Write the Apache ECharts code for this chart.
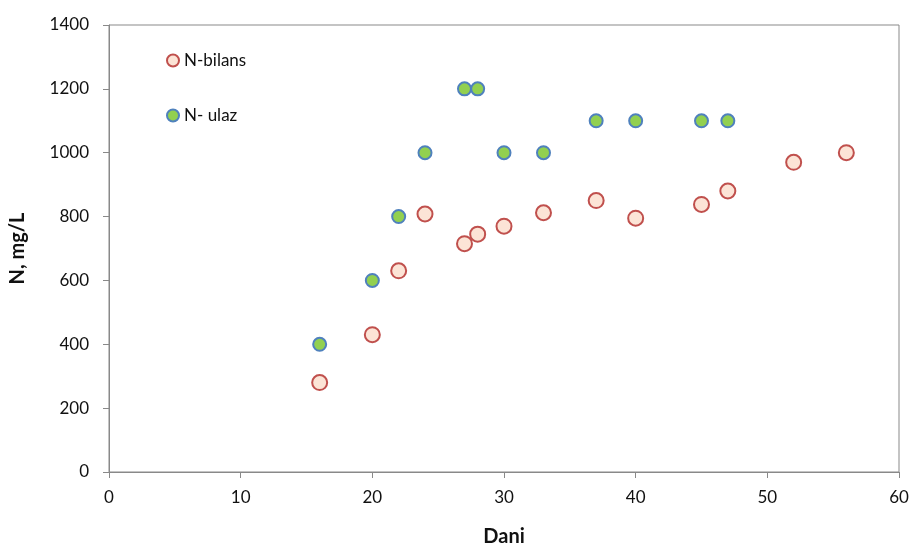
<!DOCTYPE html>
<html><head><meta charset="utf-8">
<script src="https://cdn.jsdelivr.net/npm/echarts@6/dist/echarts.min.js"></script>
<style>html,body{margin:0;padding:0;background:#fff}#c{width:913px;height:547px}</style>
</head><body><div id="c"></div>
<script>
const bilansDays = [16, 20, 22, 24, 27, 28, 30, 33, 37, 40, 45, 47, 52, 56];
const bilansN    = [280, 430, 630, 808, 715, 745, 770, 812, 850, 795, 838, 880, 970, 1000];
const ulazDays   = [16, 20, 22, 24, 27, 28, 30, 33, 37, 40, 45, 47];
const ulazN      = [400, 600, 800, 1000, 1200, 1200, 1000, 1000, 1100, 1100, 1100, 1100];
const seriesNames = ['N-bilans', 'N- ulaz'];

const FONT = 'Lato, "Open Sans", sans-serif';
const chart = echarts.init(document.getElementById('c'), null, {renderer: 'canvas'});
chart.setOption({
  animation: false,
  backgroundColor: '#fff',
  grid: {left: 109, right: 14, top: 25, bottom: 75, containLabel: false, outerBoundsMode: 'none',
         show: true, borderColor: '#898989', borderWidth: 1, backgroundColor: 'transparent'},
  legend: {
    orient: 'vertical', left: 161, top: 47, itemGap: 38, itemWidth: 12, itemHeight: 12,
    textStyle: {fontFamily: FONT, fontSize: 17, color: '#111'},
    data: seriesNames.map(n => ({name: n, icon: 'circle'}))
  },
  xAxis: {
    type: 'value', min: 0, max: 60, interval: 10,
    name: 'Dani', nameLocation: 'middle', nameGap: 55,
    nameTextStyle: {fontFamily: FONT, fontSize: 20, fontWeight: 'bold', color: '#111'},
    axisLine: {show: true, lineStyle: {color: '#898989'}},
    axisTick: {show: true, length: 6, lineStyle: {color: '#898989'}},
    axisLabel: {fontFamily: FONT, fontSize: 17, color: '#111', margin: 17},
    splitLine: {show: false}
  },
  yAxis: {
    type: 'value', min: 0, max: 1400, interval: 200,
    name: 'N, mg/L', nameLocation: 'middle', nameGap: 81,
    nameTextStyle: {fontFamily: FONT, fontSize: 20, fontWeight: 'bold', color: '#111'},
    axisLine: {show: true, lineStyle: {color: '#898989'}},
    axisTick: {show: true, length: 6, lineStyle: {color: '#898989'}},
    axisLabel: {fontFamily: FONT, fontSize: 17, color: '#111', margin: 20, formatter: v => String(v)},
    splitLine: {show: false}
  },
  series: [
    {
      name: seriesNames[0], type: 'scatter', symbol: 'circle', symbolSize: 15,
      itemStyle: {color: '#FCE4D6', borderColor: '#C0504D', borderWidth: 2, opacity: 1},
      data: bilansDays.map((d, i) => [d, bilansN[i]]), z: 2
    },
    {
      name: seriesNames[1], type: 'scatter', symbol: 'circle', symbolSize: 13,
      itemStyle: {color: '#92D050', borderColor: '#4F81BD', borderWidth: 2, opacity: 1},
      data: ulazDays.map((d, i) => [d, ulazN[i]]), z: 3
    }
  ]
});
</script></body></html>
